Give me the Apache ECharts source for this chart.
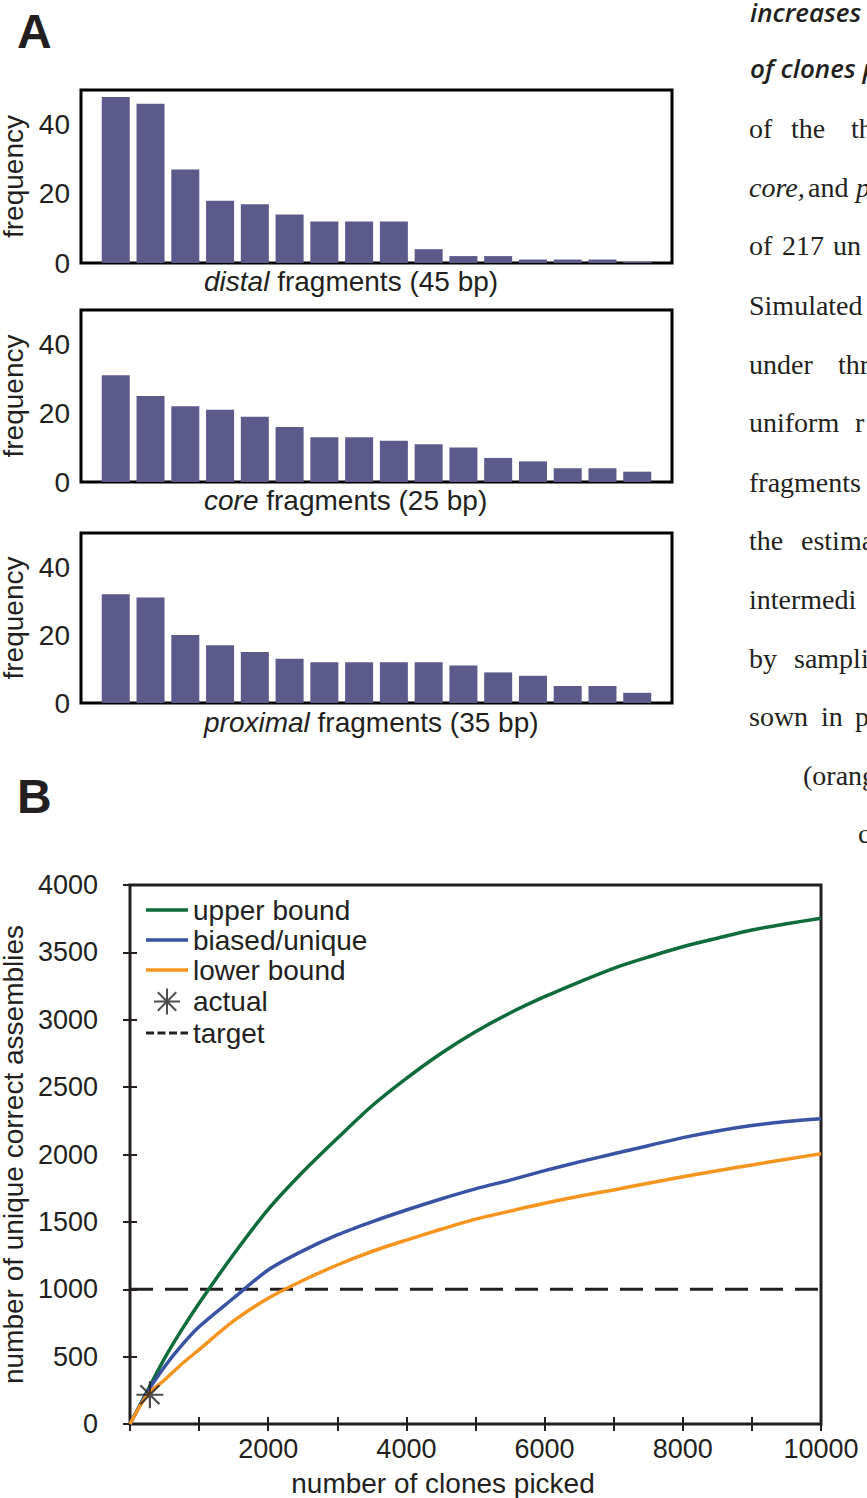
<!DOCTYPE html>
<html>
<head>
    <meta charset="utf-8">
    <title>fragment frequency and clone sampling</title>
    <script src="https://cdn.jsdelivr.net/npm/echarts@6/dist/echarts.min.js"></script>
    <style>
        html, body { margin: 0; padding: 0; background: #fff; }
        #main { width: 867px; height: 1498px; }
    </style>
</head>
<body>
<div id="main"></div>
<script>
    // panel A: frequency of each fragment variant (ranked)
    var fragmentRank = [1, 2, 3, 4, 5, 6, 7, 8, 9, 10, 11, 12, 13, 14, 15, 16];
    var distalFreq = [48, 46, 27, 18, 17, 14, 12, 12, 12, 4, 2, 2, 1, 1, 1, 0];
    var coreFreq = [31, 25, 22, 21, 19, 16, 13, 13, 12, 11, 10, 7, 6, 4, 4, 3];
    var proximalFreq = [32, 31, 20, 17, 15, 13, 12, 12, 12, 12, 11, 9, 8, 5, 5, 3];

    // panel B: unique correct assemblies vs clones picked
    var clones = [0, 250, 500, 750, 1000, 1500, 2000, 2500, 3000, 3500, 4000, 4500, 5000,
        5500, 6000, 6500, 7000, 7500, 8000, 8500, 9000, 9500, 10000];
    var upperBound = [0, 245, 487, 700, 896, 1260, 1593, 1870, 2120, 2360, 2565, 2750, 2911,
        3050, 3171, 3280, 3382, 3465, 3542, 3605, 3666, 3712, 3753];
    var biasedUnique = [0, 235, 425, 585, 722, 935, 1143, 1285, 1403, 1500, 1588, 1670, 1745,
        1810, 1880, 1945, 2005, 2065, 2125, 2175, 2215, 2245, 2265];
    var lowerBound = [0, 215, 327, 445, 552, 765, 933, 1065, 1180, 1280, 1365, 1445, 1520,
        1580, 1638, 1690, 1737, 1787, 1835, 1880, 1922, 1965, 2005];
    var actualClones = [288];
    var actualUnique = [217];
    var targetX = [0, 10000];
    var targetY = [1000, 1000];

    var xTickLabels = [2000, 4000, 6000, 8000, 10000];

    var ink = '#231f20';
    var sans = "'Liberation Sans', Arial, Helvetica, sans-serif";
    var serif = "'Liberation Serif', 'Times New Roman', serif";
    var barColor = '#5c5a8a';
    var star = 'path://M12 0L12 24M0 12L24 12M3.5 3.5L20.5 20.5M3.5 20.5L20.5 3.5';
    var solidIcon = 'path://M0 0H42V3.4H0Z';
    var dotIcon = 'path://M0 0H8V3H0ZM11.5 0H19.5V3H11.5ZM23 0H31V3H23ZM34.5 0H42V3H34.5Z';

    var myChart = echarts.init(document.getElementById('main'), null, {renderer: 'svg'});

    function pairs(xs, ys) {
        var out = [];
        for (var i = 0; i < xs.length; i++) {
            out.push([xs[i], ys[i]]);
        }
        return out;
    }

    function txt(x, y, s, extra) {
        var st = {
            text: s, fontSize: 28, fontFamily: sans, fill: ink,
            textAlign: 'left', align: 'left', textVerticalAlign: 'middle', verticalAlign: 'middle'
        };
        for (var k in (extra || {})) st[k] = extra[k];
        return {type: 'text', x: x, y: y, style: st};
    }

    // three bar grids + one line grid
    var barGrids = [[90, 173], [310, 172], [533, 170]];
    var barSeries = [distalFreq, coreFreq, proximalFreq];
    var grids = [], xAxes = [], yAxes = [], series = [];

    barGrids.forEach(function (g, i) {
        grids.push({left: 81, top: g[0], width: 591, height: g[1], show: true,
            containLabel: false, outerBoundsMode: 'none',
            borderColor: '#000', borderWidth: 3});
        xAxes.push({gridIndex: i, type: 'value', min: 0, max: 17, show: false});
        yAxes.push({
            gridIndex: i, type: 'value', min: 0, max: 50, interval: 20,
            axisLine: {show: false}, axisTick: {show: false}, splitLine: {show: false},
            axisLabel: {fontSize: 28, fontFamily: sans, color: ink, margin: 11, showMaxLabel: false},
            name: 'frequency', nameLocation: 'middle', nameGap: 48,
            nameTextStyle: {fontSize: 28, fontFamily: sans, color: ink}
        });
        series.push({
            type: 'bar', xAxisIndex: i, yAxisIndex: i, barWidth: 28, barMinHeight: 1,
            itemStyle: {color: barColor}, silent: true,
            data: pairs(fragmentRank, barSeries[i])
        });
    });

    grids.push({left: 130, top: 885, width: 691, height: 539, show: true,
        containLabel: false, outerBoundsMode: 'none',
        borderColor: ink, borderWidth: 3});
    var tickStyle = {inside: true, length: 7, lineStyle: {color: ink, width: 2}};
    xAxes.push({
        gridIndex: 3, type: 'value', min: 0, max: 10000, interval: 1000,
        axisLine: {show: false}, axisTick: tickStyle, splitLine: {show: false},
        axisLabel: {
            fontSize: 27, fontFamily: sans, color: ink, margin: 11,
            formatter: function (v) { return xTickLabels.indexOf(v) >= 0 ? String(v) : ''; }
        }
    });
    xAxes.push({
        gridIndex: 3, type: 'value', position: 'top', min: 0, max: 10000, interval: 1000,
        axisLine: {show: false}, axisTick: tickStyle, splitLine: {show: false}, axisLabel: {show: false}
    });
    yAxes.push({
        gridIndex: 3, type: 'value', min: 0, max: 4000, interval: 500,
        axisLine: {show: false}, axisTick: tickStyle, splitLine: {show: false},
        axisLabel: {fontSize: 27, fontFamily: sans, color: ink, margin: 32,
            formatter: function (v) { return String(v); }},
        name: 'number of unique correct assemblies', nameLocation: 'middle', nameGap: 90,
        nameTextStyle: {fontSize: 28, fontFamily: sans, color: ink}
    });
    yAxes.push({
        gridIndex: 3, type: 'value', position: 'right', min: 0, max: 4000, interval: 500,
        axisLine: {show: false}, axisTick: tickStyle, splitLine: {show: false}, axisLabel: {show: false}
    });

    series.push(
        {
            name: 'target', type: 'line', xAxisIndex: 3, yAxisIndex: 3, symbol: 'none', z: 1,
            itemStyle: {color: ink},
            lineStyle: {color: ink, width: 3, type: [23, 12]}, data: pairs(targetX, targetY)
        },
        {
            name: 'upper bound', type: 'line', xAxisIndex: 3, yAxisIndex: 3, symbol: 'none', smooth: 0.3,
            lineStyle: {color: '#0e6b3a', width: 3.5}, itemStyle: {color: '#0e6b3a'},
            data: pairs(clones, upperBound)
        },
        {
            name: 'biased/unique', type: 'line', xAxisIndex: 3, yAxisIndex: 3, symbol: 'none', smooth: 0.3,
            lineStyle: {color: '#3953a4', width: 3.5}, itemStyle: {color: '#3953a4'},
            data: pairs(clones, biasedUnique)
        },
        {
            name: 'lower bound', type: 'line', xAxisIndex: 3, yAxisIndex: 3, symbol: 'none', smooth: 0.3,
            lineStyle: {color: '#f7941e', width: 3.5}, itemStyle: {color: '#f7941e'},
            data: pairs(clones, lowerBound)
        },
        {
            name: 'actual', type: 'scatter', xAxisIndex: 3, yAxisIndex: 3, symbol: star, symbolSize: 27, z: 5,
            itemStyle: {color: 'none', borderColor: ink, borderWidth: 2.2},
            data: pairs(actualClones, actualUnique)
        }
    );

    var graphics = [
        txt(17, 31, 'A', {fontSize: 48, fontWeight: 'bold'}),
        txt(17, 796, 'B', {fontSize: 48, fontWeight: 'bold'}),
        txt(204, 281, '{i|distal} fragments (45 bp)', {rich: {i: {fontStyle: 'italic', fontSize: 28, fontFamily: sans, fill: ink}}}),
        txt(204, 500, '{i|core} fragments (25 bp)', {rich: {i: {fontStyle: 'italic', fontSize: 28, fontFamily: sans, fill: ink}}}),
        txt(204, 722, '{i|proximal} fragments (35 bp)', {rich: {i: {fontStyle: 'italic', fontSize: 28, fontFamily: sans, fill: ink}}}),
        txt(443, 1483, 'number of clones picked', {textAlign: 'center', align: 'center'})
    ];

    // cropped caption text on the right edge
    var capSans = {fontFamily: "'Open Sans', sans-serif", fontStyle: 'italic', fontWeight: 600, fontSize: 26};
    var capSerif = {fontFamily: serif, fontSize: 28};
    var capItalic = {fontFamily: serif, fontSize: 28, fontStyle: 'italic'};
    var captionWords = [
        [750, 12, 'increases', capSans],
        [750, 68, 'of clones p', capSans],
        [749, 128, 'of', capSerif], [791, 128, 'the', capSerif], [851, 128, 'thr', capSerif],
        [749, 187, 'core,', capItalic], [808, 187, 'and', capSerif], [856, 187, 'p', capItalic],
        [749, 245, 'of', capSerif], [782, 245, '217', capSerif], [833, 245, 'un', capSerif],
        [749, 305, 'Simulated', capSerif],
        [749, 364, 'under', capSerif], [838, 364, 'thr', capSerif],
        [749, 422, 'uniform', capSerif], [855, 422, 'r', capSerif],
        [749, 482, 'fragments', capSerif],
        [749, 540, 'the', capSerif], [801, 540, 'estima', capSerif],
        [749, 599, 'intermedi', capSerif],
        [749, 658, 'by', capSerif], [794, 658, 'sampli', capSerif],
        [749, 716, 'sown', capSerif], [821, 716, 'in', capSerif], [855, 716, 'p', capSerif],
        [803, 775, '(orang', capSerif],
        [858, 833, 'c', capSerif]
    ];
    captionWords.forEach(function (w) {
        graphics.push(txt(w[0], w[1], w[2], w[3]));
    });

    var option = {
        animation: false,
        backgroundColor: '#fff',
        grid: grids,
        xAxis: xAxes,
        yAxis: yAxes,
        legend: {
            orient: 'vertical', left: 146, top: 896, padding: 0,
            itemWidth: 42, itemHeight: 26, itemGap: 2,
            textStyle: {fontSize: 28, fontFamily: sans, color: ink},
            data: [
                {name: 'upper bound', icon: solidIcon},
                {name: 'biased/unique', icon: solidIcon},
                {name: 'lower bound', icon: solidIcon},
                {name: 'actual'},
                {name: 'target', icon: dotIcon}
            ]
        },
        graphic: graphics,
        series: series
    };
    myChart.setOption(option);
</script>
</body>
</html>
